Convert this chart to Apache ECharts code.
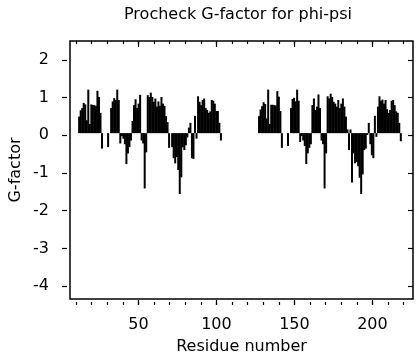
<!DOCTYPE html>
<html>
<head>
<meta charset="utf-8">
<script src="https://cdn.jsdelivr.net/npm/echarts@6/dist/echarts.min.js"></script>
<style>
html,body{margin:0;padding:0;background:#fff;}
#c{width:416px;height:360px;}
</style>
</head>
<body>
<div id="c"></div>
<script>
// ---- data ----
const titleText = "Procheck G-factor for phi-psi";
const xAxisName = "Residue number";
const yAxisName = "G-factor";
const xMajorTicks = [50, 100, 150, 200];
const yTicks = [-4, -3, -2, -1, 0, 1, 2];

const chainAStart = 7;
const chainAValues = [
  0.45, 0.62, 0.68, 0.82, 0.78, 0.35, 1.18, 0.25, 0.78, 0.76,   // 7-16
  0.76, 0.74, 1.15, 0.98, 0.55, -0.42, 0, 0, 0, -0.38,          // 17-26
  0, 0.68, 0.86, 0.95, 0.9, 1.18, 0.9, -0.28, -0.08, -0.15,     // 27-36
  -0.3, -0.84, -0.55, -0.38, -0.2, 0.33, 0.76, 0.92, 0.68, 0.8, // 37-46
  1.04, -0.2, -0.28, -1.5, -0.52, 1.03, 0.98, 1.1, 0.98, 0.85,  // 47-56
  0.94, 0.72, 0.86, 0.74, 0.98, 0.8, 0.74, 0.46, 0.3, -0.4,     // 57-66
  0, -0.38, -0.68, -0.82, -0.65, -1.0, -1.65, -1.2, -0.38, -0.46, // 67-76
  -0.33, -0.12, 0.15, 0.28, -0.68, -0.7, 0.47, -0.15, 1.0, 0.85,  // 77-86
  0.76, 0.9, 0.94, 0.68, 0.63, 0.55, 0.59, 0.9, 0.88, 0.8,      // 87-96
  0.6, 0.6, 0.28, -0.2                                          // 97-100
];

const chainBStart = 125;
const chainBValues = [
  0.46, 0.64, 0.73, 0.84, 0.79, 0.4, 1.18, 0.25, 0.77, 0.77,    // 125-134
  0.76, 0.75, 1.14, 0.99, 0.6, -0.4, 0, 0, 0, -0.35,            // 135-144
  0, 0.68, 0.93, 0.96, 0.86, 1.18, 0.88, -0.24, -0.08, -0.2,    // 145-154
  -0.35, -0.84, -0.55, -0.4, -0.3, 0.76, 0.94, 0.63, 0.72, 1.05, // 155-164
  0.68, -0.2, -0.3, -1.5, -0.55, 1.0, 0.94, 1.07, 0.98, 0.85,   // 165-174
  0.8, 0.72, 0.9, 0.68, 0.8, 0.94, 0.72, 0.45, 0.1, -0.46,      // 175-184
  0.1, -1.34, -0.55, -0.82, -0.78, -0.9, -1.21, -1.65, -1.12, -0.46, // 185-194
  -0.42, -0.05, 0.28, -0.3, -0.6, -0.68, 0.47, -0.1, 0.72, 1.0,  // 195-204
  0.88, 0.91, 0.8, 0.9, 0.65, 0.55, 0.63, 0.88, 0.9, 0.76,      // 205-214
  0.59, 0.55, 0.28, -0.22                                       // 215-218
];

// ---- build ----
function toPairs(start, vals) {
  return vals.map((v, i) => [start + i, v]);
}
const barData = toPairs(chainAStart, chainAValues).concat(toPairs(chainBStart, chainBValues));

const FONT = "DejaVu Sans";
const BLACK = "#000";

const gridTop = 41, gridBottom = 55, gridLeft = 62, gridRight = 3;
const xMin = 1, xMax = 226, yMin = -4.5, yMax = 2.5;
const plotW = 416 - gridLeft - gridRight;
const plotH = 360 - gridTop - gridBottom;
const xPx = v => gridLeft + (v - xMin) / (xMax - xMin) * plotW;
const yPx = v => gridTop + (yMax - v) / (yMax - yMin) * plotH;

const majMin = xMajorTicks[0], majMax = xMajorTicks[xMajorTicks.length - 1];
const minorMin = 10, minorMax = 220;

function tickAxis(pos, min, max, interval, len, labels, gridIndex, extra) {
  return Object.assign({
    type: 'value', gridIndex: gridIndex, position: pos, min: min, max: max, interval: interval,
    axisLine: {show: false},
    axisTick: {show: true, inside: true, length: len, lineStyle: {color: BLACK, width: 1.2}},
    axisLabel: {show: labels, color: BLACK, fontFamily: FONT, fontSize: 16, margin: 12},
    splitLine: {show: false}
  }, extra || {});
}
function hiddenAxis(gridIndex, min, max) {
  return {type: 'value', gridIndex: gridIndex, show: false, min: min, max: max, splitLine: {show: false}};
}

const chart = echarts.init(document.getElementById('c'), null, {renderer: 'canvas'});
chart.setOption({
  animation: false,
  backgroundColor: '#fff',
  title: {
    text: titleText, left: 124, top: 7, padding: 0,
    textStyle: {color: BLACK, fontFamily: FONT, fontSize: 16, fontWeight: 'normal'}
  },
  grid: [
    {left: gridLeft, right: gridRight, top: gridTop, bottom: gridBottom, show: true,
     borderColor: BLACK, borderWidth: 1.5, backgroundColor: 'transparent', containLabel: false},
    {left: xPx(majMin), right: 416 - xPx(majMax), top: gridTop, bottom: gridBottom},
    {left: xPx(minorMin), right: 416 - xPx(minorMax), top: gridTop, bottom: gridBottom},
    {left: gridLeft, right: gridRight, top: yPx(yTicks[yTicks.length - 1]), bottom: 360 - yPx(yTicks[0])}
  ],
  xAxis: [
    {type: 'value', gridIndex: 0, min: xMin, max: xMax, position: 'bottom',
     axisLine: {show: false}, axisTick: {show: false}, axisLabel: {show: false}, splitLine: {show: false},
     name: xAxisName, nameLocation: 'middle', nameGap: 40,
     nameTextStyle: {color: BLACK, fontFamily: FONT, fontSize: 16}},
    tickAxis('bottom', majMin, majMax, 50, 5, true, 1),
    tickAxis('top', majMin, majMax, 50, 6, false, 1),
    tickAxis('bottom', minorMin, minorMax, 10, 3, false, 2),
    tickAxis('top', minorMin, minorMax, 10, 3, false, 2),
    hiddenAxis(3, 0, 1)
  ],
  yAxis: [
    {type: 'value', gridIndex: 0, min: yMin, max: yMax, position: 'left',
     axisLine: {show: false}, axisTick: {show: false}, axisLabel: {show: false}, splitLine: {show: false},
     name: yAxisName, nameLocation: 'middle', nameGap: 46,
     nameTextStyle: {color: BLACK, fontFamily: FONT, fontSize: 16}},
    hiddenAxis(1, 0, 1),
    hiddenAxis(2, 0, 1),
    tickAxis('left', yTicks[0], yTicks[yTicks.length - 1], 1, 5, true, 3, {axisLabel: {show: true, color: BLACK, fontFamily: FONT, fontSize: 16, margin: 13}}),
    tickAxis('right', yTicks[0], yTicks[yTicks.length - 1], 1, 5, false, 3)
  ],
  series: [{
    type: 'bar', xAxisIndex: 0, yAxisIndex: 0,
    data: barData, barWidth: 2,
    itemStyle: {color: BLACK},
    silent: true
  }]
});
</script>
</body>
</html>
